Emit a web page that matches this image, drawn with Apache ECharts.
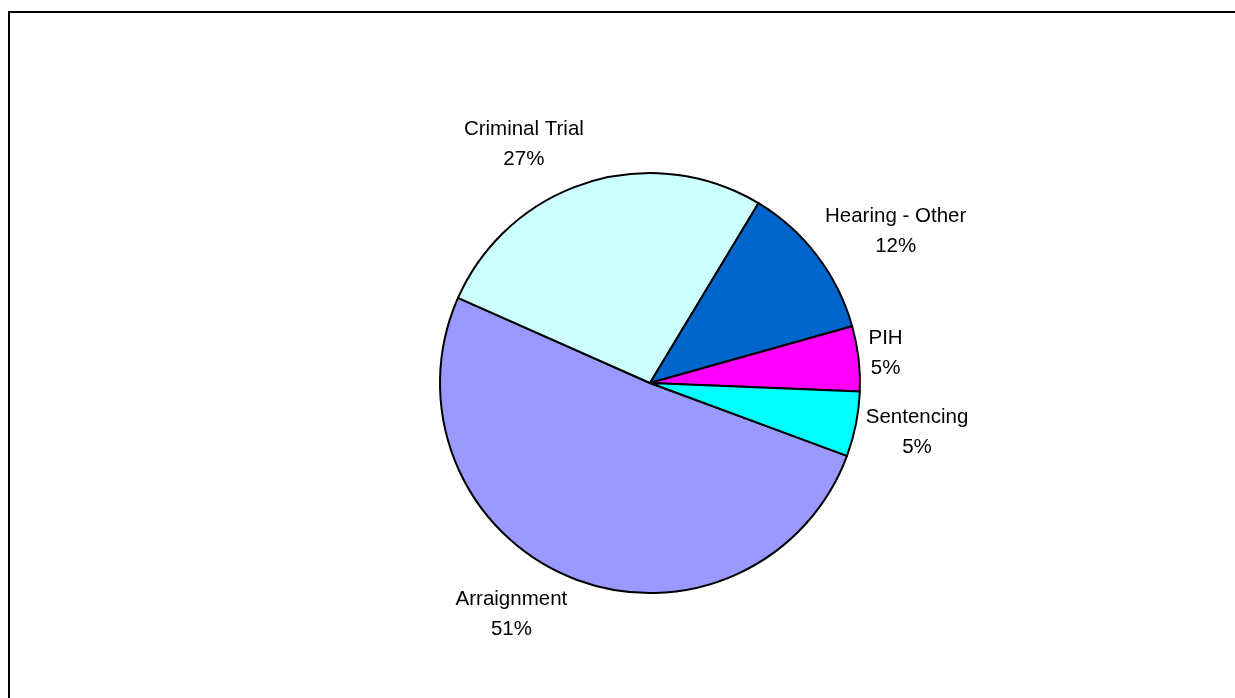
<!DOCTYPE html>
<html>
<head>
<meta charset="utf-8">
<script src="https://cdn.jsdelivr.net/npm/echarts@6/dist/echarts.min.js"></script>
<style>
  html, body { margin: 0; padding: 0; background: #ffffff; }
  #chart { width: 1235px; height: 698px; }
</style>
</head>
<body>
<div id="chart"></div>
<script>
// Share of hearings by type (percent)
const categories = ['Arraignment', 'Criminal Trial', 'Hearing - Other', 'PIH', 'Sentencing'];
const shares = [51, 27, 12, 5, 5];
const sliceColors = ['#9999FF', '#CCFFFF', '#0066CC', '#FF00FF', '#00FFFF'];

const PIE_CENTER = [650, 383];
const PIE_RADIUS = 210;
const START_ANGLE = -20.3;   // first slice starts below 3 o'clock, runs clockwise
const LABEL_GAP = 10;

const total = shares.reduce((a, b) => a + b, 0);

// Mid angle of a slice in degrees, counter-clockwise from 3 o'clock
function midAngle(i) {
  let before = 0;
  for (let k = 0; k < i; k++) before += shares[k];
  return START_ANGLE - (before + shares[i] / 2) / total * 360;
}

const chart = echarts.init(document.getElementById('chart'), null, { renderer: 'canvas' });

chart.setOption({
  animation: false,
  backgroundColor: '#ffffff',
  graphic: [{
    type: 'rect',
    silent: true,
    shape: { x: 9, y: 12, width: 1400, height: 900 },
    style: { fill: 'none', stroke: '#000000', lineWidth: 2 }
  }],
  series: [{
    type: 'pie',
    center: PIE_CENTER,
    radius: PIE_RADIUS,
    startAngle: START_ANGLE,
    clockwise: true,
    avoidLabelOverlap: false,
    silent: true,
    itemStyle: { borderColor: '#000000', borderWidth: 2 },
    label: {
      show: true,
      position: 'outside',
      color: '#000000',
      fontFamily: 'Liberation Sans, Arial, sans-serif',
      fontSize: 20.5,
      lineHeight: 30,
      align: 'center',
      formatter: p => p.name + '\n' + Math.round(p.percent) + '%'
    },
    labelLine: { show: false },
    labelLayout: function (params) {
      const a = midAngle(params.dataIndex) * Math.PI / 180;
      const c = Math.cos(a), s = Math.sin(a);
      const w = params.labelRect.width, h = params.labelRect.height;
      return {
        x: PIE_CENTER[0] + c * (PIE_RADIUS + LABEL_GAP) + Math.sign(c) * w / 2,
        y: PIE_CENTER[1] - s * (PIE_RADIUS + LABEL_GAP + h / 2),
        align: 'center',
        verticalAlign: 'middle'
      };
    },
    data: categories.map((name, i) => ({
      name: name,
      value: shares[i],
      itemStyle: { color: sliceColors[i] }
    }))
  }]
});
</script>
</body>
</html>
